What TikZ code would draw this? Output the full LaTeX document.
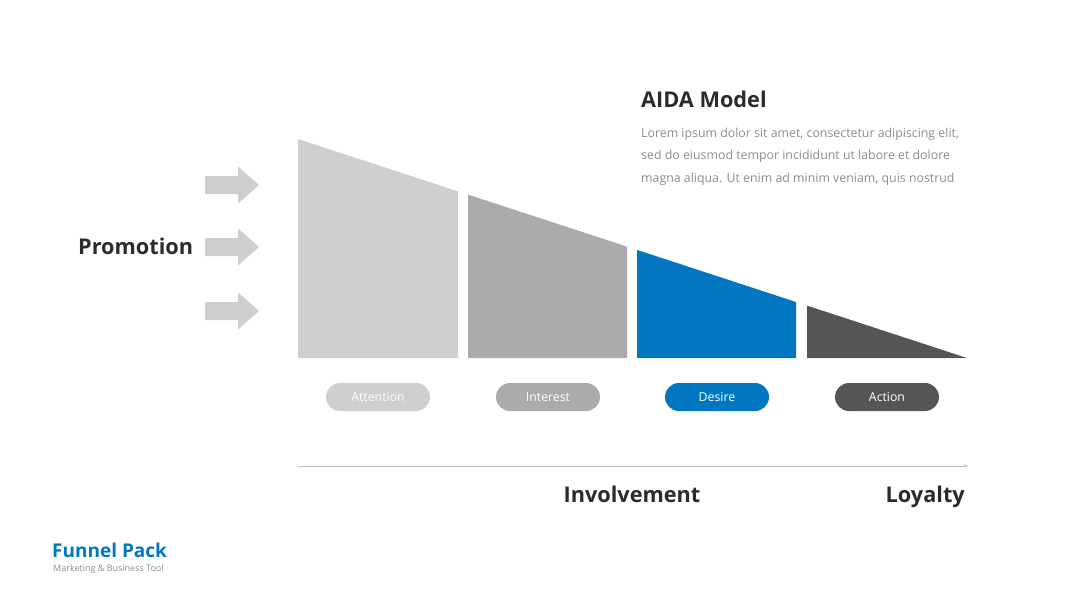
\documentclass[tikz,border=0pt]{standalone}
\usepackage{fontspec}
\setmainfont{Open Sans}
\usetikzlibrary{arrows.meta}
\definecolor{gA}{HTML}{D0CED0}
\definecolor{gB}{HTML}{ACAAAC}
\definecolor{bC}{HTML}{0077C0}
\definecolor{dD}{HTML}{555555}
\definecolor{txt}{HTML}{2B2B2B}
\definecolor{lorem}{HTML}{8C8C8C}
\definecolor{arr}{HTML}{CFCDCF}
\definecolor{axis}{HTML}{BDBDBD}
\tikzset{
  pill/.style={rounded corners=14pt, minimum width=104pt, minimum height=28pt, inner sep=0pt, text=white, font=\fontsize{12.3}{14}\selectfont},
  heading/.style={text=txt, inner sep=0pt, font=\fontsize{21.7}{24}\selectfont\bfseries},
  body/.style={text=lorem, inner sep=0pt, anchor=base west, font=\fontsize{12.35}{14}\selectfont},
  blockarrow/.style={fill=arr, draw=none},
}
\begin{document}
\begin{tikzpicture}[x=1pt,y=-1pt]
\useasboundingbox (0,0) rectangle (1080,608);
% funnel pieces
\fill[gA] (298,139) -- (458,191.4) -- (458,358) -- (298,358) -- cycle;
\fill[gB] (468,194.6) -- (627,246.6) -- (627,358) -- (468,358) -- cycle;
\fill[bC] (637,249.9) -- (796,302) -- (796,358) -- (637,358) -- cycle;
\fill[dD] (807,305.6) -- (967,358) -- (807,358) -- cycle;
% block arrows
\foreach \cy in {185,247,311}{
  \fill[arr] (205,\cy-9) -- (238,\cy-9) -- (238,\cy-18.5) -- (259,\cy) -- (238,\cy+18.5) -- (238,\cy+9) -- (205,\cy+9) -- cycle;
}
% pills
\node[pill, fill=gA] (att) at (378,397) {Attention};
\node[pill, fill=gB] (int) at (548,397) {Interest};
\node[pill, fill=bC] (des) at (717,397) {Desire};
\node[pill, fill=dD] (act) at (887,397) {Action};
% axis
\coordinate (ax0) at (298,466);
\coordinate (ax1) at (968,466);
\draw[axis, line width=1pt, -{Stealth[length=4pt,width=3pt]}] (ax0) -- (ax1);
% texts
\node[heading, anchor=base west] (promo) at (78,254) {Promotion};
\node[heading, anchor=base west] (aida) at (641,107) {AIDA Model};
\node[body] (l1) at (641,137) {Lorem ipsum dolor sit amet, consectetur adipiscing elit,};
\node[body] (l2) at (641,159.5) {sed do eiusmod tempor incididunt ut labore et dolore};
\node[body] (l3) at (641,182) {magna aliqua. Ut enim ad minim veniam, quis nostrud};
\node[heading, anchor=base] (inv) at (632,502) {Involvement};
\node[heading, anchor=base east] (loy) at (965,502) {Loyalty};
\node[inner sep=0pt, anchor=base west, text=bC, font=\fontsize{19}{22}\selectfont\bfseries] (fp) at (52,557) {Funnel Pack};
\node[inner sep=0pt, anchor=base west, text=lorem, font=\fontsize{9}{11}\selectfont] (mb) at (53,571) {Marketing \& Business Tool};
\end{tikzpicture}
\end{document}
